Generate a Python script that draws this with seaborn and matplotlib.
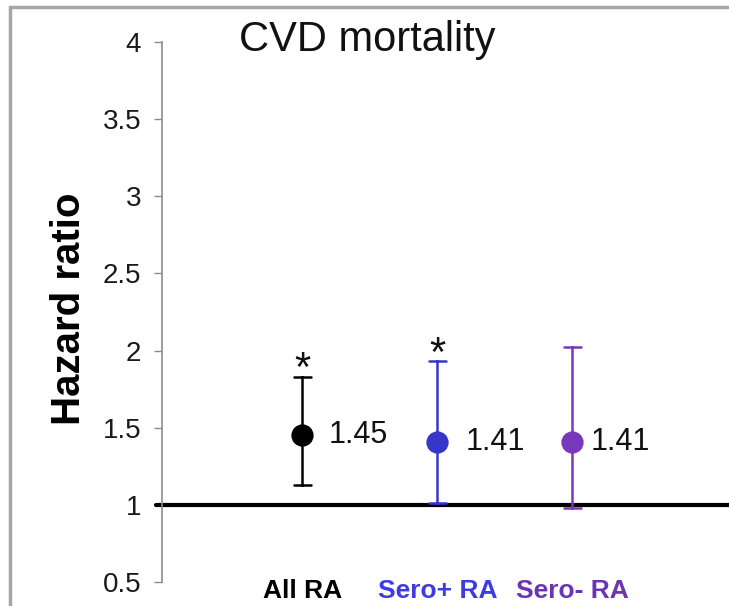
import numpy as np
import pandas as pd
import matplotlib
matplotlib.use("Agg")
import matplotlib.pyplot as plt
import seaborn as sns
from matplotlib.patches import Rectangle

# ---- data ----
categories = ["All RA", "Sero+ RA", "Sero- RA"]
hazard_ratio = [1.45, 1.41, 1.41]
ci_lower = [1.13, 1.01, 0.98]
ci_upper = [1.83, 1.93, 2.02]
significant = [True, True, False]
yticks = [0.5, 1, 1.5, 2, 2.5, 3, 3.5, 4]

# ---- style ----
point_colors = ["#000000", "#3636c8", "#7838bc"]
label_colors = ["#000000", "#3c3ce2", "#6c34b2"]
value_offsets = [19, 20, 13]

sns.set_theme(style="white")
plt.rcParams["font.family"] = ["Liberation Sans", "DejaVu Sans"]

# long table: lower / estimate / upper per group -> median = HR, 100% interval = CI
rows = []
for c, lo, hr, hi in zip(categories, ci_lower, hazard_ratio, ci_upper):
    for v in (lo, hr, hi):
        rows.append({"group": c, "value": v})
df = pd.DataFrame(rows)

fig = plt.figure(figsize=(7.29, 6.06), dpi=100)
ax = fig.add_axes([162 / 729, (606 - 582) / 606, 567 / 729, 540 / 606])

ax.axhline(1, color="black", lw=3, zorder=1, xmin=-0.01, clip_on=False)

sns.pointplot(
    data=df, x="group", y="value", hue="group", order=categories,
    hue_order=categories, palette=point_colors,
    estimator="median", errorbar=("pi", 100), capsize=0.13,
    linestyle="none", markers="o", markersize=14,
    err_kws={"linewidth": 1.8}, legend=False, ax=ax, zorder=3,
)

ax.set_xlim(-1.04, 3.16)
ax.set_ylim(0.5, 4)
ax.set_yticks(yticks)
ax.set_yticklabels([f"{v:g}" for v in yticks])
ax.set_xlabel("")
ax.set_ylabel("")

for s in ["top", "right", "bottom"]:
    ax.spines[s].set_visible(False)
ax.spines["left"].set_color("#8c8c8c")
ax.spines["left"].set_linewidth(1.2)

ax.tick_params(axis="y", left=True, length=6, width=1, color="#8c8c8c",
               labelsize=20, pad=9, labelcolor="#1a1a1a", direction="out")
ax.tick_params(axis="x", bottom=False, length=0, labelsize=19, pad=-2)
for lab, col in zip(ax.get_xticklabels(), label_colors):
    lab.set_color(col)
    lab.set_fontweight("bold")

for i, (hr, hi, sig, off) in enumerate(zip(hazard_ratio, ci_upper, significant, value_offsets)):
    ax.annotate(f"{hr:.2f}", xy=(i, hr), xytext=(off, 0), textcoords="offset points",
                ha="left", va="center", fontsize=22, color="#111111")
    if sig:
        ax.annotate("*", xy=(i, hi), xytext=(0, -3), textcoords="offset points",
                    ha="center", va="baseline", fontsize=30, color="#111111")

fig.text(367 / 729, 1 - 40 / 606, "CVD mortality", fontsize=30,
         ha="center", va="center", color="#111111")
fig.text(69 / 729, 1 - 309 / 606, "Hazard ratio", rotation=90, fontsize=29,
         fontweight="bold", ha="center", va="center", color="#000000")

fig.patches.append(Rectangle((10 / 729, -0.1), 1.2, (606 - 7) / 606 + 0.1,
                             transform=fig.transFigure, fill=False,
                             ec="#a6a6a6", lw=2.5))

fig.savefig("out.png", dpi=100)
